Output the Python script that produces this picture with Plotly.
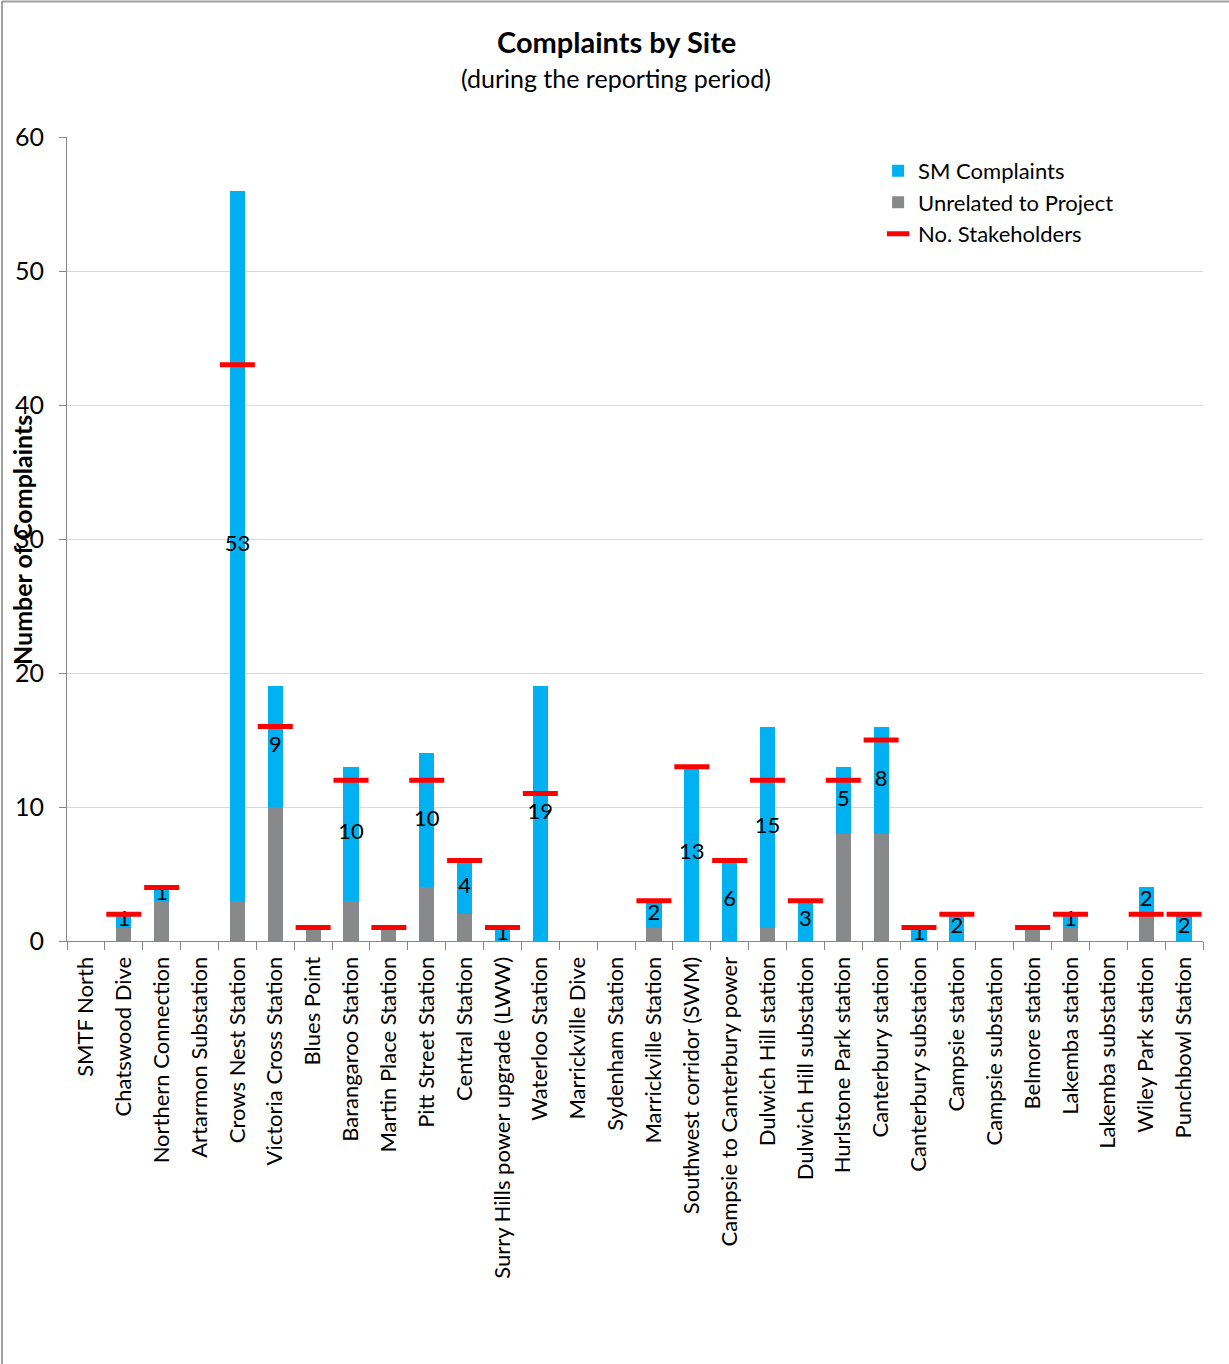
import plotly.graph_objects as go

sites = ["SMTF North", "Chatswood Dive", "Northern Connection", "Artarmon Substation",
         "Crows Nest Station", "Victoria Cross Station", "Blues Point", "Barangaroo Station",
         "Martin Place Station", "Pitt Street Station", "Central Station",
         "Surry Hills power upgrade (LWW)", "Waterloo Station", "Marrickville Dive",
         "Sydenham Station", "Marrickville Station", "Southwest corridor (SWM)",
         "Campsie to Canterbury power", "Dulwich Hill station", "Dulwich Hill substation",
         "Hurlstone Park station", "Canterbury station", "Canterbury substation",
         "Campsie station", "Campsie substation", "Belmore station", "Lakemba station",
         "Lakemba substation", "Wiley Park station", "Punchbowl Station"]
unrelated = [0, 1, 3, 0, 3, 10, 1, 3, 1, 4, 2, 0, 0, 0, 0, 1, 0, 0, 1, 0, 8, 8, 0, 0, 0, 1, 1, 0, 2, 0]
sm_complaints = [0, 1, 1, 0, 53, 9, 0, 10, 0, 10, 4, 1, 19, 0, 0, 2, 13, 6, 15, 3, 5, 8, 1, 2, 0, 0, 1, 0, 2, 2]
stakeholders = [None, 2, 4, None, 43, 16, 1, 12, 1, 12, 6, 1, 11, None, None, 3, 13, 6, 12, 3, 12, 15, 1, 2, None, 1, 2, None, 2, 2]
y_ticks = [0, 10, 20, 30, 40, 50, 60]

FONT = "Lato"
BLUE = "#00B0F0"
GRAY = "#87898B"
RED = "#FF0000"

fig = go.Figure()
fig.add_trace(go.Bar(x=sites, y=unrelated, name="Unrelated to Project",
                     marker=dict(color=GRAY, line=dict(width=0)), width=0.4,
                     legendrank=2))
fig.add_trace(go.Bar(x=sites, y=sm_complaints, name="SM Complaints",
                     marker=dict(color=BLUE, line=dict(width=0)), width=0.4,
                     legendrank=1))

# data labels at the middle of the SM segment
lab_x, lab_y, lab_t = [], [], []
for s, u, v in zip(sites, unrelated, sm_complaints):
    if v > 0:
        lab_x.append(s)
        lab_y.append(u + v / 2)
        lab_t.append(str(v))
fig.add_trace(go.Scatter(x=lab_x, y=lab_y, text=lab_t, mode="text", showlegend=False,
                         textfont=dict(family=FONT, size=22, color="#000000"),
                         hoverinfo="skip"))

fig.add_trace(go.Scatter(x=sites, y=stakeholders, mode="markers", name="No. Stakeholders",
                         marker=dict(symbol="line-ew", size=25, color=RED,
                                     line=dict(width=5, color=RED)),
                         legendrank=3))

L, R, T, B = 67, 26, 137, 423
W, H = 1229, 1364
pw = W - L - R
ph = H - T - B

fig.update_layout(
    width=W, height=H,
    barmode="stack",
    bargap=0.6,
    plot_bgcolor="white", paper_bgcolor="white",
    margin=dict(l=L, r=R, t=T, b=B, autoexpand=False),
    font=dict(family=FONT, size=20, color="#000000"),
    showlegend=True,
    legend=dict(x=0.714, y=0.984, xanchor="left", yanchor="top",
                bgcolor="rgba(0,0,0,0)", font=dict(family=FONT, size=22),
                tracegroupgap=0, itemwidth=30, traceorder="normal"),
    xaxis=dict(type="category", tickangle=-90, showgrid=False,
               showline=True, linecolor="#868686", linewidth=1,
               ticks="outside", ticklen=8, tickcolor="#868686", tickson="boundaries",
               ticklabelstandoff=6,
               tickfont=dict(family=FONT, size=22), range=[-0.5, len(sites) - 0.5]),
    yaxis=dict(range=[0, 60], tickvals=y_ticks, showgrid=True, gridcolor="#D9D9D9",
               gridwidth=1, showline=True, linecolor="#868686", linewidth=1,
               ticks="outside", ticklen=7, tickcolor="#868686", ticklabelstandoff=10,
               tickfont=dict(family=FONT, size=25), zeroline=False),
    annotations=[
        dict(text="<b>Complaints by Site</b>", x=(616 - L) / pw, xref="paper",
             y=(H - 42 - B) / ph, yref="paper", showarrow=False,
             font=dict(family=FONT, size=29), xanchor="center", yanchor="middle"),
        dict(text="(during the reporting period)", x=(616 - L) / pw, xref="paper",
             y=(H - 78 - B) / ph, yref="paper", showarrow=False,
             font=dict(family=FONT, size=25), xanchor="center", yanchor="middle"),
        dict(text="<b>Number of Complaints</b>", x=(22 - L) / pw, xref="paper",
             y=(H - 540 - B) / ph, yref="paper", showarrow=False, textangle=-90,
             font=dict(family=FONT, size=25), xanchor="center", yanchor="middle"),
    ],
    shapes=[
        dict(type="line", xref="paper", yref="paper",
             x0=(2 - L) / pw, x1=(2 - L) / pw, y0=(H - 1 - B) / ph, y1=-B / ph,
             line=dict(color="#A0A0A0", width=2)),
        dict(type="line", xref="paper", yref="paper",
             x0=(2 - L) / pw, x1=(W - L) / pw, y0=(H - 1.5 - B) / ph, y1=(H - 1.5 - B) / ph,
             line=dict(color="#A0A0A0", width=2)),
    ],
)

fig.write_html("out.html", config={"displayModeBar": False},
               post_script="document.body.style.margin='0';document.body.style.overflow='hidden';")
